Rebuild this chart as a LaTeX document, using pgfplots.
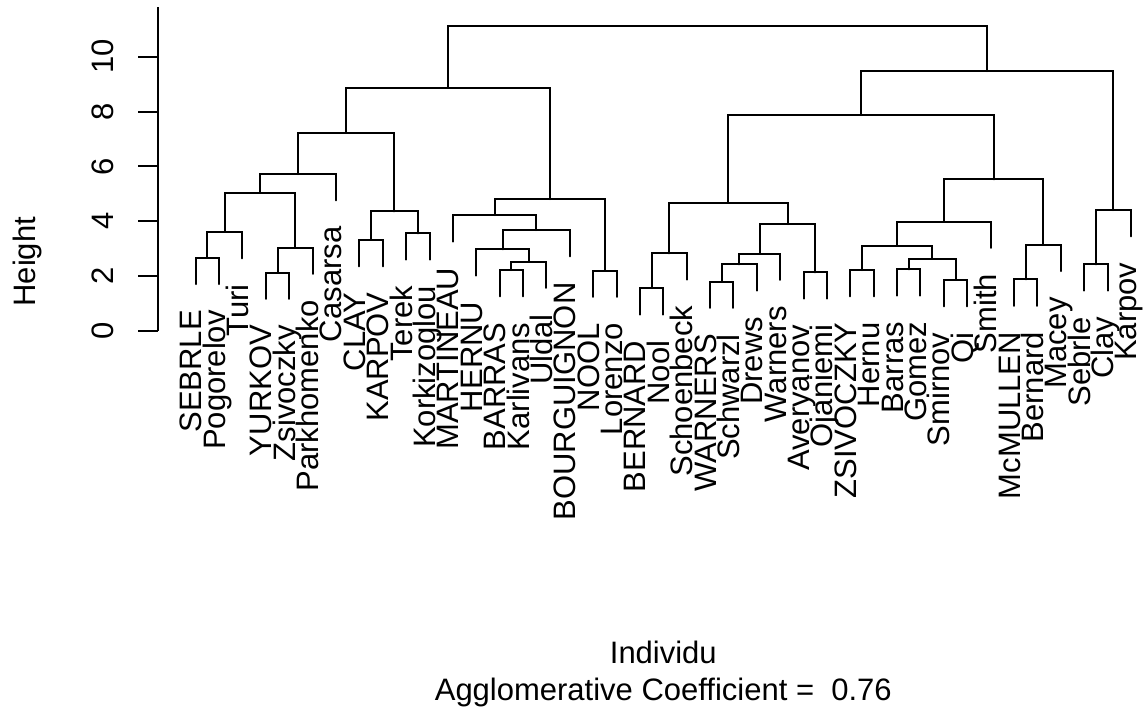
\documentclass[border=0pt]{standalone}
\usepackage{fontspec}
\setmainfont{Liberation Sans}
\usepackage{pgfplots}
\pgfplotsset{compat=1.18}

\begin{document}
\fontsize{15.5}{18.6}\selectfont
\begin{tikzpicture}
\begin{axis}[
  anchor=origin, at={(0pt,0pt)},
  x=11.69pt, y=13.715pt,
  xmin=-0.6, xmax=41.56, ymin=0, ymax=11.82,
  hide x axis,
  axis y line*=left,
  ytick={0,2,4,6,8,10},
  tick align=outside,
  major tick length=10pt,
  every tick/.style={black, line width=1pt},
  axis line style={black, line width=1pt},
  /pgf/number format/assume math mode=true,
  yticklabel style={xshift=-12.5pt, rotate=90, anchor=base, inner sep=0pt},
  clip=false,
  dend/.style={black, line width=1pt, line cap=round, mark=none},
]
% merges: left leg, top bar, right leg
\addplot[dend] coordinates {(1,1.71) (1,2.67) (2,2.67) (2,1.71)};
\addplot[dend] coordinates {(1.5,2.67) (1.5,3.61) (3,3.61) (3,2.65)};
\addplot[dend] coordinates {(4,1.17) (4,2.13) (5,2.13) (5,1.17)};
\addplot[dend] coordinates {(4.5,2.13) (4.5,3.04) (6,3.04) (6,2.08)};
\addplot[dend] coordinates {(2.25,3.61) (2.25,5.04) (5.25,5.04) (5.25,3.04)};
\addplot[dend] coordinates {(3.75,5.04) (3.75,5.72) (7,5.72) (7,4.76)};
\addplot[dend] coordinates {(8,2.36) (8,3.32) (9,3.32) (9,2.36)};
\addplot[dend] coordinates {(10,2.60) (10,3.56) (11,3.56) (11,2.60)};
\addplot[dend] coordinates {(8.5,3.32) (8.5,4.36) (10.5,4.36) (10.5,3.56)};
\addplot[dend] coordinates {(5.375,5.72) (5.375,7.23) (9.5,7.23) (9.5,4.36)};
\addplot[dend] coordinates {(14,1.26) (14,2.22) (15,2.22) (15,1.26)};
\addplot[dend] coordinates {(14.5,2.22) (14.5,2.53) (16,2.53) (16,1.57)};
\addplot[dend] coordinates {(13,2.02) (13,2.98) (15.25,2.98) (15.25,2.53)};
\addplot[dend] coordinates {(14.125,2.98) (14.125,3.68) (17,3.68) (17,2.72)};
\addplot[dend] coordinates {(12,3.26) (12,4.22) (15.5625,4.22) (15.5625,3.68)};
\addplot[dend] coordinates {(18,1.24) (18,2.20) (19,2.20) (19,1.24)};
\addplot[dend] coordinates {(13.78125,4.22) (13.78125,4.81) (18.5,4.81) (18.5,2.20)};
\addplot[dend] coordinates {(7.4375,7.23) (7.4375,8.87) (16.140625,8.87) (16.140625,4.81)};
\addplot[dend] coordinates {(20,0.60) (20,1.56) (21,1.56) (21,0.60)};
\addplot[dend] coordinates {(20.5,1.56) (20.5,2.83) (22,2.83) (22,1.87)};
\addplot[dend] coordinates {(23,0.84) (23,1.80) (24,1.80) (24,0.84)};
\addplot[dend] coordinates {(23.5,1.80) (23.5,2.43) (25,2.43) (25,1.47)};
\addplot[dend] coordinates {(24.25,2.43) (24.25,2.82) (26,2.82) (26,1.86)};
\addplot[dend] coordinates {(27,1.18) (27,2.14) (28,2.14) (28,1.18)};
\addplot[dend] coordinates {(25.125,2.82) (25.125,3.90) (27.5,3.90) (27.5,2.14)};
\addplot[dend] coordinates {(21.25,2.83) (21.25,4.68) (26.3125,4.68) (26.3125,3.90)};
\addplot[dend] coordinates {(29,1.26) (29,2.22) (30,2.22) (30,1.26)};
\addplot[dend] coordinates {(31,1.29) (31,2.25) (32,2.25) (32,1.29)};
\addplot[dend] coordinates {(33,0.90) (33,1.86) (34,1.86) (34,0.90)};
\addplot[dend] coordinates {(31.5,2.25) (31.5,2.64) (33.5,2.64) (33.5,1.86)};
\addplot[dend] coordinates {(29.5,2.22) (29.5,3.10) (32.5,3.10) (32.5,2.64)};
\addplot[dend] coordinates {(31,3.10) (31,3.99) (35,3.99) (35,3.03)};
\addplot[dend] coordinates {(36,0.92) (36,1.88) (37,1.88) (37,0.92)};
\addplot[dend] coordinates {(36.5,1.88) (36.5,3.14) (38,3.14) (38,2.18)};
\addplot[dend] coordinates {(33,3.99) (33,5.53) (37.25,5.53) (37.25,3.14)};
\addplot[dend] coordinates {(23.78125,4.68) (23.78125,7.87) (35.125,7.87) (35.125,5.53)};
\addplot[dend] coordinates {(39,1.47) (39,2.43) (40,2.43) (40,1.47)};
\addplot[dend] coordinates {(39.5,2.43) (39.5,4.41) (41,4.41) (41,3.45)};
\addplot[dend] coordinates {(29.453125,7.87) (29.453125,9.47) (40.25,9.47) (40.25,4.41)};
\addplot[dend] coordinates {(11.7890625,8.87) (11.7890625,11.12) (34.8515625,11.12) (34.8515625,9.47)};

% leaf labels hanging below each leaf end
\addplot[black, draw=none, mark=none, nodes near coords,
  point meta=explicit symbolic,
  every node near coord/.append style={xshift=3pt, yshift=-12.9pt, rotate=90,
    anchor=base east, inner sep=0pt, text=black,
    font=\fontsize{15.5}{18.6}\selectfont}]
  table[x=x, y=bottom, meta=name] {
x bottom name
1 1.71 SEBRLE
2 1.71 Pogorelov
3 2.65 Turi
4 1.17 YURKOV
5 1.17 Zsivoczky
6 2.08 Parkhomenko
7 4.76 Casarsa
8 2.36 CLAY
9 2.36 KARPOV
10 2.60 Terek
11 2.60 Korkizoglou
12 3.26 MARTINEAU
13 2.02 HERNU
14 1.26 BARRAS
15 1.26 Karlivans
16 1.57 Uldal
17 2.72 BOURGUIGNON
18 1.24 NOOL
19 1.24 Lorenzo
20 0.60 BERNARD
21 0.60 Nool
22 1.87 Schoenbeck
23 0.84 WARNERS
24 0.84 Schwarzl
25 1.47 Drews
26 1.86 Warners
27 1.18 Averyanov
28 1.18 Ojaniemi
29 1.26 ZSIVOCZKY
30 1.26 Hernu
31 1.29 Barras
32 1.29 Gomez
33 0.90 Smirnov
34 0.90 Qi
35 3.03 Smith
36 0.92 McMULLEN
37 0.92 Bernard
38 2.18 Macey
39 1.47 Sebrle
40 1.47 Clay
41 3.45 Karpov
};

\node[rotate=90, anchor=base] at (axis cs:-5.873,2.526) {Height};
\node[anchor=base] at (axis cs:21,-12.11) {Individu};
\node[anchor=base] at (axis cs:21,-13.46) {Agglomerative Coefficient = \ 0.76};
\end{axis}
\pgfresetboundingbox
\path[use as bounding box] (-86.16pt,-189.50pt) rectangle (485.84pt,165.50pt);
\end{tikzpicture}
\end{document}
